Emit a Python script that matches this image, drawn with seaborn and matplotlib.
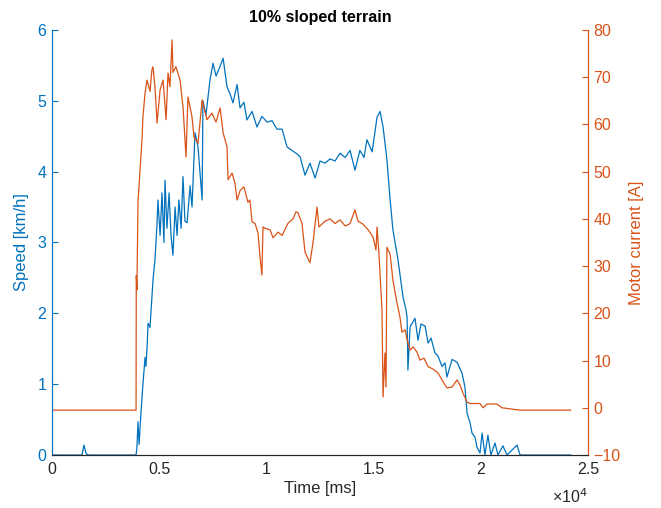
import numpy as np
import pandas as pd
import matplotlib
matplotlib.use("Agg")
import matplotlib.pyplot as plt
import seaborn as sns

# speed trace [km/h] (time in ms)
speed_t = [0, 1400, 1490, 1590, 1700, 3920, 3960, 4010, 4060, 4150, 4240, 4340, 4380, 4430,
           4480, 4570, 4710, 4800, 4900, 4940, 5040, 5130, 5220, 5270, 5360, 5460, 5550,
           5640, 5740, 5830, 5920, 6020, 6110, 6200, 6300, 6440, 6530, 6670, 6810, 7000,
           7040, 7180, 7370, 7510, 7650, 7790, 7980, 8160, 8300, 8440, 8630, 8770, 8950,
           9090, 9330, 9560, 9790, 10030, 10260, 10490, 10730, 10960, 11190, 11430, 11570,
           11800, 12030, 12270, 12500, 12730, 12970, 13200, 13430, 13670, 13900, 14130,
           14360, 14550, 14690, 14930, 15160, 15300, 15440, 15620, 15770, 15900, 16140,
           16370, 16510, 16560, 16600, 16700, 16930, 17070, 17210, 17400, 17540, 17680,
           17860, 18000, 18190, 18330, 18420, 18660, 18890, 19120, 19260, 19360, 19500,
           19590, 19730, 19820, 19960, 20060, 20190, 20330, 20470, 20660, 20800, 21030,
           21220, 21690, 21830, 24200]
speed = [0, 0, 0.14, 0.02, 0, 0, 0.1, 0.47, 0.15, 0.6, 1.0, 1.38, 1.25, 1.5,
         1.86, 1.8, 2.47, 2.75, 3.28, 3.6, 3.1, 3.7, 3.0, 3.88, 3.2, 3.7, 3.1,
         2.82, 3.5, 3.1, 3.6, 3.2, 3.93, 3.3, 3.28, 3.8, 3.5, 4.55, 4.35, 3.6,
         5.0, 4.8, 5.3, 5.53, 5.35, 5.45, 5.6, 5.2, 5.1, 4.97, 5.23, 4.9, 4.98,
         4.73, 4.85, 4.63, 4.78, 4.7, 4.72, 4.6, 4.6, 4.35, 4.3, 4.25, 4.21,
         3.95, 4.12, 3.91, 4.15, 4.12, 4.18, 4.15, 4.26, 4.2, 4.3, 4.02,
         4.3, 4.2, 4.45, 4.28, 4.77, 4.85, 4.63, 4.17, 3.6, 3.18, 2.75,
         2.23, 2.05, 1.95, 1.2, 1.81, 1.93, 1.62, 1.85, 1.82, 1.58, 1.65,
         1.44, 1.4, 1.25, 1.3, 1.1, 1.35, 1.31, 1.16, 0.96, 0.59, 0.45,
         0.31, 0.25, 0.11, 0.03, 0.31, 0.0, 0.28, 0.0, 0.17, 0.0, 0.13,
         0, 0.14, 0, 0]

# motor current trace [A]
current_t = [0, 3920, 3930, 3960, 4010, 4100, 4200, 4240, 4340, 4430, 4570, 4660, 4710,
             4800, 4900, 5040, 5180, 5320, 5410, 5500, 5600, 5640, 5780, 5970, 6110,
             6250, 6340, 6530, 6620, 6810, 7000, 7230, 7460, 7650, 7840, 7980, 8160,
             8210, 8400, 8530, 8630, 8770, 8950, 9140, 9230, 9330, 9470, 9610, 9700,
             9790, 9840, 9930, 10170, 10310, 10540, 10730, 11010, 11240, 11380, 11470,
             11660, 11800, 12030, 12170, 12360, 12450, 12730, 12970, 13200, 13430,
             13670, 13900, 14130, 14270, 14500, 14740, 14970, 15110, 15160, 15250,
             15390, 15440, 15530, 15580, 15620, 15770, 15900, 16090, 16230, 16320,
             16470, 16560, 16700, 16840, 17020, 17160, 17350, 17540, 17770, 18000,
             18240, 18420, 18660, 18890, 19030, 19170, 19360, 19500, 19960, 20100,
             20290, 20750, 20990, 21830, 24200]
current = [-0.5, -0.5, 28, 25, 43.6, 50, 57, 61.6, 66.7, 69.4, 67, 71.6, 72.2,
           68, 60.3, 67.3, 69.4, 61, 70.9, 68, 77.9, 71, 72.2, 69.4, 63.7,
           53.1, 65.8, 61.6, 57.4, 56, 65.2, 61, 62.4, 60.5, 63.5, 58.2, 55.3,
           48.3, 49.7, 47.6, 44, 46, 46.8, 43.5, 44, 39.4, 39, 37, 32,
           28.1, 38.3, 38, 37.7, 36, 37.2, 36.5, 39.1, 40, 41.5, 41.3,
           39, 33, 30.7, 34.9, 42.5, 38.3, 39.5, 40, 39, 39.8,
           38.5, 39, 41.9, 39.5, 38.9, 37.7, 36.2, 33.4, 38.3, 32.5,
           20.7, 2.3, 11.6, 4.4, 34, 32.5, 27, 22.2, 19.2, 16,
           16.5, 14.4, 12.2, 12.9, 11.8, 10.1, 10.5, 8.7, 8.2, 7.4,
           5.5, 4.2, 4.4, 5.9, 4.8, 3.1, 1.2, 0.9, 0.9, 0,
           0.8, 0.8, 0, -0.5, -0.5]

blue = "#0072BD"
orange = "#D95319"
dark = "#262626"

sns.set_style("white")
plt.rcParams['font.family'] = ['Liberation Sans', 'DejaVu Sans']

fig = plt.figure(figsize=(6.61, 5.08), dpi=100)
ax = fig.add_axes([0.0787, 0.1043, 0.8109, 0.8367])
ax2 = ax.twinx()

speed_df = pd.DataFrame({"t": speed_t, "v": speed})
current_df = pd.DataFrame({"t": current_t, "i": current})
sns.lineplot(data=speed_df, x="t", y="v", ax=ax, color=blue, lw=0.9, sort=False)
sns.lineplot(data=current_df, x="t", y="i", ax=ax2, color=orange, lw=0.9, sort=False)

ax.set_xlim(0, 25000)
ax.set_ylim(0, 6)
ax2.set_ylim(-10, 80)
ax.set_xticks([0, 5000, 10000, 15000, 20000, 25000])
ax.set_xticklabels(["0", "0.5", "1", "1.5", "2", "2.5"])
ax.set_yticks(range(0, 7))
ax2.set_yticks(range(-10, 81, 10))

for a in (ax, ax2):
    a.spines['top'].set_visible(False)
    a.spines['bottom'].set_color(dark)
    a.spines['left'].set_color(blue)
    a.spines['right'].set_color(orange)
    for s in a.spines.values():
        s.set_linewidth(0.8)

ax.tick_params(axis='x', direction='in', length=4, colors=dark, labelsize=11.5, pad=5)
ax.tick_params(axis='y', direction='in', length=4, colors=blue, labelsize=11.5, pad=4)
ax2.tick_params(axis='y', direction='in', length=4, colors=orange, labelsize=11.5, pad=4)

ax.set_xlabel("Time [ms]", fontsize=12, color=dark, labelpad=3)
ax.set_ylabel("Speed [km/h]", fontsize=12, color=blue, labelpad=6)
ax2.set_ylabel("Motor current [A]", fontsize=12, color=orange, labelpad=6)
ax.set_title("10% sloped terrain", fontsize=11.5, fontweight='bold', color='black', pad=6)
ax.text(0.966, -0.099, "×10$^4$", transform=ax.transAxes, ha='center', va='center',
        fontsize=11.5, color=dark)

fig.savefig("out.png", dpi=100)
